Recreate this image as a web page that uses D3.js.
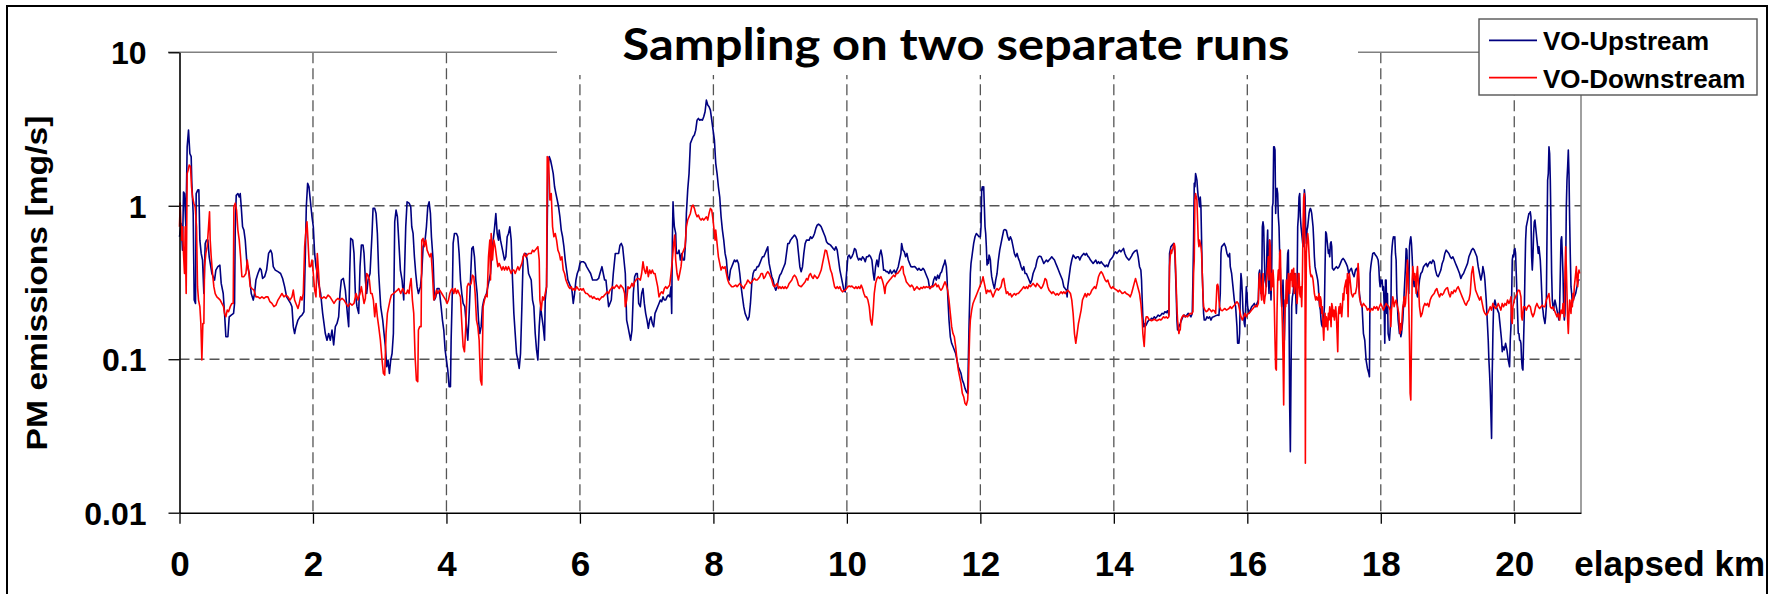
<!DOCTYPE html>
<html>
<head>
<meta charset="utf-8">
<script src="https://cdn.jsdelivr.net/npm/d3@7"></script>
<style>
  body { margin: 0; background: #fff; }
  svg { display: block; }
  .tick text { font-family: 'Liberation Sans', Arial, sans-serif; font-weight: bold; fill: #000; }
</style>
</head>
<body>
<svg id="chart" width="1780" height="594"></svg>
<script>
// elapsed km / PM emissions [mg/s]
var upstream = [
[0,0.628],[0.025,0.767],[0.045,0.514],[0.06,1.23],[0.075,1.2],[0.095,0.73],[0.115,2.42],[0.135,3.11],[0.155,2.19],[0.175,2.09],[0.185,1.4],[0.205,0.89],[0.22,0.243],[0.24,0.231],[0.25,1.2],[0.275,1.27],[0.29,1.27],[0.305,0.597],[0.325,0.489],[0.345,0.443],[0.365,0.268],[0.385,0.568],[0.405,0.597],[0.425,0.597],[0.445,0.465],[0.485,0.362],[0.525,0.328],[0.545,0.381],[0.575,0.401],[0.605,0.41],[0.625,0.312],[0.655,0.268],[0.675,0.199],[0.695,0.14],[0.725,0.14],[0.745,0.189],[0.775,0.194],[0.81,0.199],[0.825,0.231],[0.835,0.694],[0.85,1.17],[0.875,1.2],[0.895,1.14],[0.91,1.2],[0.925,0.985],[0.945,0.73],[0.965,0.694],[0.985,0.597],[1.01,0.421],[1.045,0.362],[1.075,0.268],[1.105,0.243],[1.125,0.268],[1.145,0.328],[1.175,0.362],[1.205,0.391],[1.225,0.381],[1.245,0.336],[1.275,0.345],[1.305,0.381],[1.335,0.489],[1.365,0.514],[1.385,0.489],[1.405,0.401],[1.435,0.381],[1.475,0.372],[1.515,0.362],[1.545,0.336],[1.575,0.297],[1.605,0.255],[1.635,0.243],[1.665,0.231],[1.685,0.22],[1.705,0.163],[1.725,0.147],[1.745,0.163],[1.775,0.18],[1.805,0.189],[1.835,0.194],[1.865,0.204],[1.885,0.465],[1.9,0.985],[1.92,1.4],[1.94,1.33],[1.955,1.14],[1.97,0.985],[1.985,0.848],[2.005,0.73],[2.025,0.489],[2.045,0.401],[2.065,0.362],[2.085,0.312],[2.115,0.268],[2.145,0.199],[2.165,0.171],[2.185,0.147],[2.21,0.133],[2.235,0.147],[2.26,0.133],[2.285,0.155],[2.31,0.124],[2.335,0.163],[2.36,0.171],[2.385,0.189],[2.405,0.268],[2.425,0.328],[2.455,0.336],[2.485,0.282],[2.515,0.199],[2.535,0.163],[2.55,0.362],[2.565,0.613],[2.595,0.597],[2.615,0.489],[2.635,0.268],[2.66,0.22],[2.685,0.199],[2.705,0.401],[2.725,0.554],[2.75,0.554],[2.765,0.489],[2.785,0.328],[2.805,0.268],[2.825,0.328],[2.855,0.362],[2.885,0.66],[2.9,0.961],[2.925,0.961],[2.945,0.891],[2.965,0.66],[2.985,0.362],[3.015,0.22],[3.045,0.18],[3.065,0.147],[3.085,0.121],[3.105,0.0893],[3.125,0.0988],[3.145,0.0809],[3.165,0.0988],[3.185,0.109],[3.205,0.147],[3.215,0.328],[3.225,0.787],[3.245,0.937],[3.265,0.848],[3.285,0.597],[3.31,0.381],[3.335,0.328],[3.36,0.243],
[3.39,0.73],[3.41,1.06],[3.44,1.04],[3.465,0.985],[3.48,0.73],[3.5,0.66],[3.52,0.465],[3.54,0.362],[3.56,0.297],[3.58,0.268],[3.61,0.297],[3.63,0.362],[3.65,0.541],[3.68,0.597],[3.7,0.73],[3.72,0.985],[3.74,1.06],[3.76,0.891],[3.775,0.628],[3.8,0.443],[3.82,0.243],[3.84,0.255],[3.86,0.289],[3.89,0.289],[3.92,0.22],[3.94,0.18],[3.96,0.155],[3.98,0.115],[4,0.0988],[4.02,0.085],[4.04,0.0662],[4.06,0.0662],[4.07,0.133],[4.09,0.297],[4.1,0.568],[4.12,0.66],[4.15,0.66],[4.17,0.628],[4.19,0.489],[4.21,0.328],[4.23,0.268],[4.25,0.231],[4.275,0.22],[4.3,0.163],[4.32,0.133],[4.34,0.199],[4.36,0.328],[4.38,0.527],[4.4,0.541],[4.42,0.465],[4.44,0.328],[4.46,0.268],[4.48,0.18],[4.5,0.147],[4.52,0.163],[4.54,0.22],[4.56,0.243],[4.58,0.255],[4.6,0.268],[4.62,0.297],[4.64,0.328],[4.66,0.362],[4.68,0.489],[4.7,0.597],[4.72,0.712],[4.74,0.891],[4.76,0.66],[4.78,0.597],[4.79,0.694],[4.81,0.597],[4.83,0.541],[4.85,0.489],[4.87,0.443],[4.89,0.465],[4.91,0.628],[4.93,0.66],[4.95,0.73],[4.97,0.597],[4.99,0.328],[5.01,0.199],[5.03,0.147],[5.05,0.109],[5.07,0.0988],[5.09,0.0871],[5.11,0.109],[5.13,0.22],[5.15,0.465],[5.17,0.489],[5.19,0.489],[5.21,0.443],[5.23,0.362],[5.25,0.345],[5.27,0.328],[5.29,0.243],[5.31,0.22],[5.33,0.147],[5.35,0.115],[5.37,0.0988],[5.39,0.163],[5.41,0.22],[5.43,0.189],[5.45,0.163],[5.47,0.133],[5.48,0.243],[5.5,0.297],[5.52,1.8],[5.54,2.09],[5.56,1.98],[5.58,1.8],[5.6,1.62],[5.62,1.33],[5.64,1.2],[5.66,1.09],[5.68,0.985],[5.7,0.848],[5.72,0.694],[5.74,0.628],[5.76,0.541],[5.78,0.443],[5.8,0.381],[5.82,0.328],[5.84,0.312],[5.86,0.297],[5.88,0.282],[5.9,0.231],[5.92,0.268],[5.94,0.328],[5.96,0.362],[5.98,0.381],[6,0.421],[6.02,0.432],[6.05,0.432],[6.08,0.421],[6.1,0.401],[6.13,0.381],[6.16,0.362],[6.19,0.328],[6.22,0.328],[6.25,0.328],[6.28,0.336],[6.3,0.362],[6.33,0.401],[6.35,0.362],[6.37,0.328],[6.39,0.328],[6.41,0.268],[6.43,0.22],[6.45,0.231],[6.47,0.243],[6.5,0.362],[6.53,0.489],[6.55,0.489],[6.58,0.489],[6.6,0.554],[6.62,0.568],[6.64,0.541],[6.66,0.443],[6.68,0.362],[6.7,0.18],[6.72,0.163],[6.74,0.147],[6.76,0.133],[6.78,0.155],[6.8,0.268],[6.82,0.345],[6.84,0.362],[6.86,0.362],[6.88,0.231],
[6.905,0.22],[6.925,0.268],[6.945,0.289],[6.965,0.231],[6.985,0.199],[7.005,0.18],[7.025,0.159],[7.045,0.18],[7.065,0.189],[7.085,0.171],[7.105,0.163],[7.125,0.199],[7.145,0.209],[7.165,0.22],[7.185,0.231],[7.205,0.243],[7.225,0.237],[7.245,0.255],[7.265,0.243],[7.285,0.243],[7.305,0.255],[7.325,0.262],[7.345,0.255],[7.365,0.297],[7.375,0.199],[7.385,0.597],[7.395,1.06],[7.405,0.848],[7.415,0.73],[7.435,0.66],[7.445,0.489],[7.465,0.489],[7.485,0.514],[7.505,0.443],[7.525,0.489],[7.545,0.443],[7.565,0.443],[7.585,0.597],[7.595,0.891],[7.615,1.27],[7.635,1.62],[7.655,2.55],[7.675,2.68],[7.695,2.82],[7.715,2.89],[7.735,3.11],[7.755,3.61],[7.775,3.71],[7.795,3.61],[7.815,3.65],[7.835,3.61],[7.855,3.8],[7.875,4.1],[7.895,4.88],[7.915,4.53],[7.935,4.42],[7.955,4.2],[7.975,3.61],[7.995,3.11],[8.015,2.68],[8.035,1.89],[8.055,1.62],[8.075,1.33],[8.095,1.14],[8.115,0.848],[8.135,0.694],[8.155,0.597],[8.175,0.489],[8.195,0.443],[8.215,0.345],[8.235,0.328],[8.255,0.381],[8.275,0.401],[8.295,0.421],[8.315,0.443],[8.335,0.432],[8.355,0.443],[8.375,0.421],[8.395,0.362],[8.415,0.297],[8.435,0.255],[8.455,0.22],[8.475,0.199],[8.495,0.189],[8.515,0.18],[8.535,0.189],[8.555,0.231],[8.575,0.312],[8.595,0.362],[8.615,0.381],[8.635,0.381],[8.655,0.401],[8.675,0.401],[8.695,0.421],[8.715,0.443],[8.735,0.465],[8.755,0.465],[8.775,0.489],[8.795,0.514],[8.815,0.541],[8.825,0.465],[8.835,0.421],[8.855,0.381],[8.875,0.345],[8.895,0.328],[8.915,0.297],[8.935,0.282],[8.955,0.297],[8.975,0.328],[8.995,0.353],[9.015,0.362],[9.035,0.381],[9.055,0.401],[9.075,0.421],[9.095,0.489],[9.115,0.568],[9.135,0.568],[9.155,0.597],[9.175,0.613],[9.195,0.628],[9.215,0.644],[9.235,0.628],[9.255,0.597],[9.275,0.489],[9.295,0.401],[9.315,0.372],[9.335,0.401],[9.355,0.489],[9.375,0.568],[9.395,0.597],[9.415,0.597],[9.435,0.597],[9.455,0.628],[9.475,0.613],[9.495,0.628],[9.515,0.66],[9.535,0.712],[9.555,0.748],[9.575,0.76],[9.595,0.748],[9.615,0.73],[9.635,0.694],[9.655,0.66],[9.675,0.628],[9.695,0.583],[9.715,0.568],[9.735,0.562],[9.755,0.554],[9.775,0.541],[9.795,0.527],[9.815,0.514],[9.835,0.541],[9.855,0.514],[9.875,0.443],[9.895,0.381],[9.915,0.345],[9.935,0.312],[9.955,0.282],[9.975,0.275],[9.995,0.362],[10.015,0.465],[10.035,0.477],[10.055,0.454],[10.075,0.465],[10.095,0.489],[10.115,0.527],[10.135,0.514],[10.155,0.465],[10.175,0.443],[10.195,0.454],[10.215,0.443],[10.235,0.465],[10.255,0.454],[10.275,0.432],[10.295,0.465],[10.315,0.465],[10.335,0.477],[10.355,0.465],[10.375,0.443],[10.395,0.362],
[10.41,0.328],[10.43,0.401],[10.45,0.443],[10.47,0.401],[10.49,0.477],[10.51,0.514],[10.53,0.465],[10.55,0.381],[10.57,0.381],[10.59,0.372],[10.61,0.372],[10.63,0.362],[10.65,0.381],[10.67,0.362],[10.69,0.372],[10.71,0.381],[10.73,0.362],[10.75,0.381],[10.77,0.401],[10.79,0.443],[10.81,0.489],[10.82,0.568],[10.84,0.514],[10.86,0.501],[10.88,0.465],[10.9,0.489],[10.92,0.443],[10.94,0.421],[10.96,0.401],[10.98,0.4],[11,0.401],[11.02,0.401],[11.04,0.391],[11.06,0.381],[11.08,0.391],[11.1,0.381],[11.12,0.381],[11.14,0.391],[11.16,0.381],[11.18,0.362],[11.2,0.345],[11.22,0.328],[11.24,0.289],[11.26,0.297],[11.28,0.297],[11.3,0.328],[11.32,0.345],[11.34,0.328],[11.36,0.353],[11.38,0.336],[11.4,0.362],[11.42,0.372],[11.44,0.401],[11.46,0.421],[11.47,0.443],[11.48,0.421],[11.49,0.401],[11.5,0.345],[11.51,0.268],[11.52,0.22],[11.53,0.18],[11.55,0.14],[11.57,0.127],[11.59,0.121],[11.61,0.115],[11.63,0.109],[11.65,0.0988],[11.67,0.0893],[11.69,0.085],[11.71,0.0809],[11.73,0.0731],[11.75,0.0696],[11.77,0.0646],[11.79,0.0614],[11.81,0.0599],[11.82,0.0988],[11.83,0.163],[11.84,0.243],[11.85,0.362],[11.86,0.421],[11.88,0.489],[11.9,0.568],[11.92,0.628],[11.94,0.66],[11.96,0.644],[11.98,0.628],[12,0.628],[12.01,0.73],[12.02,1.27],[12.03,1.33],[12.04,1.27],[12.05,1.33],[12.06,0.985],[12.07,0.73],[12.08,0.66],[12.09,0.541],[12.1,0.411],[12.11,0.443],[12.12,0.421],[12.13,0.477],[12.14,0.465],[12.15,0.443],[12.16,0.381],[12.17,0.345],[12.19,0.312],[12.21,0.289],[12.23,0.328],[12.25,0.362],[12.27,0.443],[12.29,0.514],[12.31,0.568],[12.33,0.628],[12.35,0.694],[12.37,0.7],[12.39,0.69],[12.41,0.628],[12.43,0.597],[12.45,0.628],[12.47,0.597],[12.49,0.541],[12.51,0.489],[12.53,0.465],[12.55,0.489],[12.57,0.454],[12.59,0.432],[12.61,0.401],[12.63,0.381],[12.65,0.401],[12.67,0.362],[12.69,0.362],[12.71,0.345],[12.73,0.328],[12.75,0.312],[12.77,0.328],[12.79,0.362],[12.81,0.381],[12.83,0.401],[12.85,0.443],[12.87,0.465],[12.89,0.47],[12.91,0.465],[12.93,0.443],[12.95,0.421],[12.97,0.432],[12.99,0.443],[13.01,0.432],[13.03,0.443],[13.05,0.454],[13.07,0.465],[13.09,0.454],[13.11,0.443],[13.13,0.421],[13.15,0.401],[13.17,0.381],[13.19,0.362],[13.21,0.345],[13.23,0.328],[13.25,0.297],[13.27,0.289],[13.29,0.282],[13.3,0.255],[13.31,0.297],[13.33,0.345],[13.35,0.401],[13.37,0.443],[13.39,0.477],[13.41,0.465],[13.43,0.454],[13.45,0.465],[13.47,0.465],[13.49,0.443],[13.51,0.465],[13.53,0.477],[13.55,0.489],[13.57,0.477],[13.59,0.489],[13.61,0.47],[13.63,0.46],[13.65,0.443],[13.67,0.432],[13.69,0.421],[13.71,0.432],[13.73,0.443],[13.75,0.421],[13.77,0.432],[13.79,0.421],[13.81,0.432],[13.83,0.421],[13.85,0.411],[13.87,0.401],[13.89,0.411],[13.91,0.401],
[13.925,0.421],[13.945,0.443],[13.965,0.454],[13.985,0.465],[14.005,0.489],[14.025,0.501],[14.045,0.489],[14.065,0.501],[14.085,0.514],[14.105,0.501],[14.125,0.514],[14.145,0.527],[14.165,0.489],[14.185,0.465],[14.205,0.454],[14.225,0.443],[14.245,0.454],[14.265,0.47],[14.285,0.489],[14.305,0.501],[14.325,0.51],[14.345,0.514],[14.365,0.465],[14.385,0.401],[14.405,0.381],[14.415,0.328],[14.425,0.243],[14.435,0.189],[14.445,0.163],[14.455,0.171],[14.465,0.163],[14.485,0.167],[14.505,0.175],[14.525,0.18],[14.545,0.18],[14.565,0.185],[14.585,0.182],[14.605,0.189],[14.625,0.185],[14.645,0.189],[14.665,0.194],[14.685,0.191],[14.705,0.194],[14.725,0.199],[14.745,0.197],[14.765,0.204],[14.785,0.201],[14.805,0.207],[14.825,0.194],[14.835,0.489],[14.855,0.541],[14.875,0.554],[14.895,0.568],[14.915,0.489],[14.925,0.362],[14.935,0.268],[14.945,0.18],[14.955,0.155],[14.975,0.163],[14.995,0.171],[15.015,0.18],[15.035,0.189],[15.055,0.194],[15.075,0.189],[15.095,0.194],[15.115,0.199],[15.135,0.194],[15.155,0.189],[15.175,0.199],[15.185,0.328],[15.195,0.597],[15.205,1.4],[15.215,1.33],[15.225,1.62],[15.235,1.55],[15.245,1.47],[15.255,1.27],[15.265,1.14],[15.275,1.09],[15.285,0.985],[15.295,1.14],[15.305,0.985],[15.315,0.597],[15.325,0.362],[15.335,0.268],[15.345,0.199],[15.355,0.18],[15.375,0.18],[15.395,0.189],[15.415,0.185],[15.435,0.189],[15.455,0.18],[15.475,0.188],[15.495,0.189],[15.515,0.191],[15.535,0.193],[15.555,0.194],[15.575,0.193],[15.595,0.268],[15.605,0.489],[15.615,0.541],[15.635,0.554],[15.655,0.568],[15.675,0.541],[15.695,0.489],[15.715,0.465],[15.735,0.489],[15.745,0.401],[15.765,0.362],[15.785,0.297],[15.805,0.243],[15.825,0.22],[15.845,0.163],[15.855,0.127],[15.875,0.127],[15.885,0.147],[15.895,0.268],[15.905,0.362],[15.915,0.328],[15.925,0.268],[15.935,0.209],[15.945,0.189],[15.955,0.171],[15.965,0.163],[15.975,0.22],[15.985,0.297],[15.995,0.268],[16.005,0.22],[16.025,0.199],[16.045,0.209],[16.065,0.22],[16.085,0.225],[16.105,0.231],[16.125,0.22],[16.145,0.231],[16.165,0.243],[16.175,0.362],[16.185,0.381],[16.195,0.328],[16.205,0.268],[16.215,0.268],[16.225,0.73],[16.235,0.787],[16.245,0.73],[16.255,0.465],[16.265,0.328],[16.285,0.297],[16.295,0.541],[16.305,0.694],[16.315,0.362],[16.325,0.268],[16.335,0.597],[16.345,0.362],[16.355,0.243],[16.365,0.362],[16.375,0.985],[16.385,1.04],[16.395,2.42],[16.405,2.42],[16.415,2.31],[16.425,0.891],[16.435,1.27],[16.445,1.3],[16.455,1.2],[16.465,0.848],[16.475,0.73],[16.485,0.489],[16.495,0.381],[16.505,0.268],[16.515,0.22],[16.525,0.243],[16.535,0.328],[16.545,0.22],[16.555,0.133],[16.565,0.22],[16.575,0.243],[16.585,0.268],[16.595,0.362],[16.605,0.489],[16.615,0.514],[16.625,0.22],[16.635,0.049],[16.645,0.025],[16.655,0.0809],[16.665,0.22],[16.675,0.255],[16.685,0.268],[16.695,0.297],[16.705,0.362],[16.715,0.328],[16.725,0.268],[16.735,0.199],[16.745,0.268],[16.755,0.73],[16.765,0.848],[16.775,1.14],[16.785,1.2],[16.795,0.848],[16.805,0.73],[16.815,0.66],[16.825,0.597],[16.835,0.541],[16.845,0.73],[16.855,1.27],[16.865,1.14],[16.875,0.694],[16.885,0.568],[16.895,0.694],[16.905,0.73],[16.915,0.807],[16.925,0.891],[16.935,0.937],[16.945,0.961],[16.955,0.937],[16.965,0.891],[16.975,0.807],[16.985,0.73],[16.995,0.597],[17.005,0.465],[17.015,0.401],[17.025,0.381],[17.035,0.362],[17.045,0.345],[17.055,0.328],[17.065,0.297],[17.075,0.243],[17.085,0.22],[17.095,0.209],[17.105,0.18],[17.115,0.167],[17.125,0.163],[17.135,0.18],[17.145,0.189],[17.155,0.22],[17.165,0.401],[17.175,0.677],[17.185,0.66],[17.195,0.597],[17.205,0.541],[17.215,0.489],[17.225,0.514],[17.235,0.465],[17.245,0.568],[17.255,0.583],[17.265,0.541],[17.275,0.391],[17.295,0.381],[17.315,0.391],[17.335,0.401],[17.355,0.391],[17.375,0.401],[17.395,0.421],[17.415,0.443],[17.435,0.454],[17.455,0.443],
[17.48,0.421],[17.5,0.401],[17.52,0.362],[17.54,0.381],[17.56,0.391],[17.58,0.362],[17.6,0.345],[17.62,0.381],[17.64,0.391],[17.66,0.362],[17.68,0.268],[17.7,0.231],[17.72,0.22],[17.74,0.147],[17.76,0.133],[17.78,0.0988],[17.8,0.0871],[17.82,0.0809],[17.83,0.0769],[17.84,0.362],[17.85,0.401],[17.86,0.432],[17.88,0.489],[17.9,0.494],[17.92,0.477],[17.94,0.465],[17.96,0.443],[17.97,0.401],[17.98,0.328],[17.99,0.297],[18,0.328],[18.01,0.312],[18.02,0.328],[18.03,0.282],[18.04,0.297],[18.05,0.231],[18.06,0.127],[18.07,0.328],[18.08,0.328],[18.09,0.199],[18.1,0.268],[18.11,0.147],[18.12,0.14],[18.13,0.133],[18.14,0.155],[18.15,0.189],[18.16,0.465],[18.17,0.541],[18.18,0.597],[18.19,0.628],[18.2,0.613],[18.21,0.628],[18.22,0.489],[18.23,0.443],[18.24,0.268],[18.25,0.22],[18.26,0.18],[18.27,0.163],[18.28,0.147],[18.29,0.163],[18.3,0.14],[18.31,0.147],[18.32,0.163],[18.33,0.18],[18.34,0.22],[18.35,0.268],[18.36,0.328],[18.37,0.401],[18.38,0.527],[18.39,0.514],[18.4,0.401],[18.41,0.328],[18.42,0.268],[18.43,0.541],[18.44,0.597],[18.45,0.628],[18.46,0.568],[18.47,0.465],[18.48,0.362],[18.49,0.328],[18.5,0.297],[18.51,0.312],[18.52,0.328],[18.53,0.297],[18.54,0.268],[18.55,0.255],[18.56,0.268],[18.57,0.297],[18.58,0.328],[18.6,0.362],[18.62,0.372],[18.64,0.401],[18.66,0.411],[18.68,0.421],[18.7,0.401],[18.72,0.421],[18.74,0.432],[18.76,0.421],[18.78,0.443],[18.8,0.432],[18.82,0.381],[18.84,0.353],[18.86,0.345],[18.88,0.362],[18.9,0.381],[18.92,0.421],[18.94,0.443],[18.96,0.489],[18.98,0.514],[19,0.501],[19.02,0.489],[19.04,0.465],[19.06,0.454],[19.08,0.465],[19.1,0.443],[19.12,0.421],[19.14,0.401],[19.16,0.381],[19.18,0.362],[19.2,0.336],[19.22,0.353],[19.24,0.362],[19.26,0.381],[19.28,0.401],[19.3,0.421],[19.32,0.465],[19.34,0.489],[19.36,0.514],[19.38,0.527],[19.4,0.514],[19.42,0.489],[19.44,0.465],[19.46,0.401],[19.48,0.362],[19.5,0.328],[19.52,0.362],[19.53,0.401],[19.54,0.381],[19.55,0.362],[19.56,0.328],[19.57,0.282],[19.58,0.243],[19.59,0.199],[19.6,0.163],[19.61,0.133],[19.62,0.0988],[19.63,0.0809],[19.64,0.063],[19.65,0.0444],[19.66,0.0305],[19.67,0.0809],[19.68,0.147],[19.69,0.22],[19.7,0.231],[19.71,0.243],[19.72,0.231],[19.73,0.22],[19.75,0.209],[19.77,0.199],[19.79,0.163],[19.81,0.133],[19.82,0.112],[19.83,0.121],[19.85,0.115],[19.87,0.127],[19.89,0.115],[19.91,0.0988],[19.93,0.0893],[19.94,0.133],[19.95,0.163],[19.96,0.243],[19.97,0.443],[19.98,0.477],[19.99,0.465],[20,0.514],[20.01,0.527],[20.02,0.489],[20.03,0.362],[20.04,0.268],[20.05,0.199],[20.06,0.147],[20.07,0.147],[20.08,0.133],[20.09,0.133],[20.1,0.127],[20.11,0.0988],[20.12,0.0871],[20.13,0.085],[20.14,0.133],[20.15,0.199],[20.16,0.362],[20.17,0.597],[20.18,0.73],[20.19,0.767],[20.2,0.807],[20.21,0.848],[20.22,0.891],[20.23,0.891],[20.24,0.914],[20.25,0.848],[20.26,0.465],[20.27,0.381],[20.28,0.465],[20.29,0.66],[20.3,0.787],[20.31,0.807],[20.32,0.73],[20.33,0.66],[20.34,0.597],[20.35,0.541],[20.36,0.489],[20.37,0.541],[20.38,0.489],[20.39,0.443],[20.4,0.362],[20.41,0.282],[20.42,0.22],[20.43,0.209],[20.44,0.189],[20.45,0.18],[20.46,0.171],[20.47,0.189],[20.48,0.22],[20.49,0.597],[20.5,1.47],[20.51,1.62],[20.52,2.42],[20.53,2.19],[20.54,1.47],[20.55,0.767],[20.56,0.362],[20.57,0.243],[20.58,0.22],[20.59,0.209],[20.6,0.231],[20.61,0.243],[20.62,0.231],[20.63,0.22],[20.64,0.209],[20.65,0.199],[20.66,0.189],[20.67,0.18],[20.68,0.22],[20.69,0.362],[20.7,0.597],[20.71,0.628],[20.72,0.489],[20.73,0.362],[20.74,0.22],[20.75,0.18],[20.76,0.199],[20.77,0.362],[20.78,0.985],[20.79,1.47],[20.8,1.8],[20.81,2.31],[20.82,1.62],[20.83,0.807],[20.84,0.465],[20.85,0.297],[20.86,0.268],[20.87,0.231],[20.88,0.243],[20.9,0.255],[20.92,0.268],[20.94,0.297],[20.96,0.328],[20.98,0.328]
];

var downstream = [
[0,0.73],[0.01,1.04],[0.03,0.597],[0.045,0.73],[0.06,0.489],[0.075,0.362],[0.085,0.73],[0.1,0.268],[0.115,1.62],[0.13,1.71],[0.145,1.84],[0.165,1.8],[0.18,1.33],[0.195,1.14],[0.215,1.04],[0.235,0.985],[0.255,0.73],[0.27,0.297],[0.285,0.243],[0.305,0.22],[0.32,0.171],[0.335,0.0988],[0.35,0.171],[0.365,0.171],[0.375,0.401],[0.395,0.489],[0.415,0.541],[0.435,0.73],[0.45,0.914],[0.46,0.597],[0.475,0.465],[0.495,0.362],[0.515,0.297],[0.535,0.268],[0.56,0.255],[0.585,0.249],[0.61,0.243],[0.635,0.231],[0.66,0.22],[0.675,0.199],[0.695,0.189],[0.715,0.209],[0.735,0.204],[0.76,0.22],[0.785,0.231],[0.805,0.231],[0.815,0.985],[0.835,1.04],[0.855,0.937],[0.875,0.694],[0.895,0.597],[0.915,0.465],[0.935,0.345],[0.965,0.345],[0.995,0.362],[1.015,0.443],[1.035,0.381],[1.06,0.297],[1.085,0.289],[1.115,0.282],[1.145,0.255],[1.175,0.255],[1.205,0.249],[1.235,0.255],[1.265,0.249],[1.295,0.255],[1.325,0.255],[1.355,0.237],[1.385,0.231],[1.415,0.22],[1.445,0.225],[1.475,0.243],[1.505,0.255],[1.535,0.268],[1.565,0.255],[1.595,0.262],[1.625,0.255],[1.655,0.243],[1.685,0.255],[1.705,0.282],[1.725,0.243],[1.745,0.231],[1.775,0.214],[1.795,0.231],[1.815,0.255],[1.835,0.243],[1.855,0.268],[1.875,0.541],[1.895,0.694],[1.91,0.787],[1.925,0.597],[1.945,0.401],[1.965,0.401],[1.985,0.443],[2.005,0.362],[2.025,0.282],[2.045,0.255],[2.065,0.489],[2.085,0.362],[2.105,0.255],[2.135,0.249],[2.165,0.255],[2.195,0.249],[2.225,0.262],[2.255,0.255],[2.285,0.243],[2.315,0.231],[2.345,0.243],[2.375,0.249],[2.405,0.243],[2.435,0.249],[2.465,0.243],[2.495,0.231],[2.525,0.22],[2.555,0.231],[2.585,0.225],[2.615,0.231],[2.645,0.268],[2.675,0.243],[2.705,0.268],[2.725,0.297],[2.745,0.262],[2.765,0.231],[2.785,0.249],[2.805,0.362],[2.825,0.353],[2.845,0.328],[2.865,0.268],[2.885,0.268],[2.905,0.243],[2.925,0.189],[2.945,0.231],[2.965,0.189],[2.985,0.163],[3.01,0.133],[3.035,0.0988],[3.055,0.0809],[3.075,0.0788],[3.095,0.147],[3.115,0.199],[3.135,0.22],[3.155,0.243],[3.175,0.262],[3.205,0.268],[3.235,0.275],[3.265,0.282],[3.285,0.289],[3.315,0.268],[3.345,0.289],[3.375,0.268],
[3.4,0.268],[3.42,0.282],[3.44,0.268],[3.45,0.297],[3.47,0.336],[3.49,0.243],[3.51,0.199],[3.53,0.104],[3.55,0.0731],[3.57,0.0714],[3.58,0.155],[3.6,0.163],[3.62,0.163],[3.63,0.597],[3.65,0.613],[3.67,0.541],[3.69,0.597],[3.71,0.514],[3.73,0.489],[3.75,0.465],[3.77,0.489],[3.79,0.362],[3.81,0.243],[3.83,0.255],[3.85,0.282],[3.87,0.268],[3.9,0.282],[3.93,0.268],[3.96,0.255],[3.99,0.243],[4.01,0.231],[4.03,0.243],[4.05,0.268],[4.07,0.282],[4.09,0.289],[4.11,0.268],[4.13,0.289],[4.15,0.268],[4.17,0.282],[4.19,0.268],[4.21,0.255],[4.23,0.171],[4.25,0.121],[4.27,0.112],[4.29,0.163],[4.31,0.297],[4.33,0.312],[4.35,0.304],[4.37,0.312],[4.39,0.353],[4.41,0.345],[4.43,0.268],[4.45,0.18],[4.47,0.163],[4.49,0.133],[4.51,0.0731],[4.53,0.0679],[4.54,0.121],[4.55,0.22],[4.57,0.243],[4.59,0.262],[4.61,0.255],[4.63,0.465],[4.65,0.597],[4.66,0.328],[4.67,0.66],[4.69,0.443],[4.71,0.597],[4.73,0.541],[4.75,0.465],[4.77,0.401],[4.79,0.421],[4.81,0.401],[4.83,0.381],[4.85,0.401],[4.87,0.381],[4.89,0.401],[4.91,0.381],[4.93,0.401],[4.95,0.381],[4.97,0.362],[4.99,0.381],[5.01,0.381],[5.03,0.362],[5.05,0.381],[5.07,0.401],[5.09,0.381],[5.11,0.401],[5.13,0.421],[5.15,0.465],[5.17,0.489],[5.19,0.465],[5.21,0.477],[5.23,0.489],[5.25,0.489],[5.27,0.489],[5.29,0.514],[5.31,0.501],[5.33,0.514],[5.35,0.527],[5.37,0.541],[5.39,0.443],[5.4,0.243],[5.42,0.209],[5.44,0.255],[5.46,0.243],[5.48,0.268],[5.5,0.297],[5.51,2.09],[5.53,2.03],[5.55,1.09],[5.57,1.2],[5.59,0.73],[5.61,0.628],[5.63,0.66],[5.65,0.597],[5.67,0.514],[5.69,0.489],[5.71,0.443],[5.73,0.465],[5.75,0.381],[5.77,0.362],[5.79,0.328],[5.81,0.312],[5.83,0.297],[5.85,0.289],[5.87,0.297],[5.89,0.282],[5.91,0.289],[5.93,0.282],[5.95,0.297],[5.97,0.289],[5.99,0.282],[6.01,0.289],[6.03,0.282],[6.05,0.289],[6.07,0.275],[6.09,0.268],[6.11,0.268],[6.13,0.262],[6.15,0.255],[6.17,0.258],[6.19,0.249],[6.21,0.255],[6.23,0.249],[6.25,0.246],[6.27,0.249],[6.29,0.243],[6.31,0.249],[6.33,0.255],[6.35,0.255],[6.37,0.262],[6.39,0.268],[6.41,0.275],[6.43,0.268],[6.45,0.282],[6.47,0.289],[6.49,0.297],[6.51,0.289],[6.53,0.297],[6.55,0.304],[6.57,0.297],[6.59,0.289],[6.61,0.304],[6.63,0.297],[6.65,0.289],[6.67,0.268],[6.68,0.22],[6.7,0.243],[6.72,0.297],[6.74,0.289],[6.76,0.297],[6.78,0.312],[6.8,0.297],[6.82,0.32],[6.84,0.328],[6.86,0.336],[6.88,0.336],
[6.905,0.328],[6.925,0.362],[6.945,0.432],[6.965,0.381],[6.985,0.362],[7.005,0.401],[7.025,0.345],[7.045,0.381],[7.065,0.362],[7.085,0.381],[7.105,0.362],[7.125,0.362],[7.145,0.328],[7.165,0.297],[7.185,0.255],[7.205,0.268],[7.225,0.275],[7.245,0.268],[7.265,0.289],[7.285,0.297],[7.305,0.289],[7.325,0.297],[7.345,0.304],[7.365,0.362],[7.385,0.443],[7.405,0.568],[7.42,0.644],[7.435,0.443],[7.455,0.362],[7.475,0.328],[7.495,0.362],[7.515,0.401],[7.535,0.489],[7.555,0.514],[7.575,0.541],[7.595,0.73],[7.615,0.807],[7.635,0.848],[7.655,0.891],[7.675,0.985],[7.695,1.01],[7.715,0.961],[7.735,0.891],[7.755,0.848],[7.775,0.869],[7.795,0.827],[7.815,0.807],[7.835,0.827],[7.855,0.807],[7.875,0.827],[7.895,0.848],[7.915,0.807],[7.935,0.891],[7.955,0.961],[7.975,0.937],[7.995,0.807],[8.015,0.66],[8.025,0.597],[8.035,0.694],[8.055,0.568],[8.075,0.465],[8.095,0.421],[8.115,0.381],[8.135,0.401],[8.155,0.391],[8.175,0.401],[8.195,0.362],[8.215,0.328],[8.235,0.312],[8.255,0.304],[8.275,0.297],[8.295,0.297],[8.315,0.3],[8.335,0.304],[8.355,0.297],[8.375,0.304],[8.395,0.312],[8.415,0.304],[8.435,0.297],[8.455,0.289],[8.475,0.304],[8.495,0.312],[8.515,0.328],[8.535,0.32],[8.555,0.312],[8.575,0.32],[8.595,0.328],[8.615,0.336],[8.635,0.328],[8.655,0.328],[8.675,0.336],[8.695,0.345],[8.715,0.362],[8.735,0.362],[8.755,0.336],[8.775,0.345],[8.795,0.362],[8.815,0.372],[8.835,0.362],[8.855,0.345],[8.875,0.328],[8.895,0.304],[8.915,0.297],[8.935,0.304],[8.955,0.312],[8.975,0.289],[8.995,0.297],[9.015,0.289],[9.035,0.297],[9.055,0.289],[9.075,0.297],[9.095,0.289],[9.115,0.297],[9.135,0.312],[9.155,0.32],[9.175,0.328],[9.195,0.345],[9.215,0.353],[9.235,0.345],[9.255,0.328],[9.275,0.304],[9.295,0.3],[9.315,0.297],[9.335,0.304],[9.355,0.312],[9.375,0.32],[9.395,0.336],[9.415,0.328],[9.435,0.353],[9.455,0.362],[9.475,0.345],[9.495,0.336],[9.515,0.353],[9.535,0.345],[9.555,0.336],[9.575,0.345],[9.595,0.362],[9.615,0.381],[9.635,0.421],[9.655,0.465],[9.675,0.514],[9.695,0.51],[9.715,0.465],[9.735,0.421],[9.755,0.381],[9.775,0.362],[9.795,0.328],[9.815,0.297],[9.835,0.289],[9.855,0.297],[9.875,0.289],[9.895,0.297],[9.915,0.282],[9.935,0.275],[9.955,0.28],[9.975,0.282],[9.995,0.289],[10.015,0.297],[10.035,0.3],[10.055,0.297],[10.075,0.3],[10.095,0.294],[10.115,0.289],[10.135,0.297],[10.155,0.289],[10.175,0.297],[10.195,0.289],[10.215,0.304],[10.235,0.289],[10.255,0.268],[10.275,0.255],[10.295,0.255],[10.315,0.243],[10.335,0.22],[10.355,0.18],[10.375,0.167],[10.395,0.209],
[10.41,0.268],[10.43,0.312],[10.45,0.336],[10.47,0.345],[10.49,0.336],[10.51,0.345],[10.53,0.328],[10.55,0.304],[10.57,0.268],[10.58,0.297],[10.6,0.312],[10.62,0.32],[10.64,0.328],[10.66,0.336],[10.68,0.345],[10.7,0.353],[10.72,0.345],[10.74,0.362],[10.76,0.362],[10.78,0.372],[10.8,0.381],[10.82,0.401],[10.84,0.401],[10.85,0.362],[10.87,0.345],[10.89,0.32],[10.91,0.312],[10.93,0.304],[10.95,0.297],[10.97,0.304],[10.99,0.297],[11.01,0.282],[11.03,0.289],[11.05,0.297],[11.07,0.289],[11.09,0.285],[11.11,0.294],[11.13,0.289],[11.15,0.297],[11.17,0.292],[11.19,0.297],[11.21,0.294],[11.23,0.297],[11.25,0.289],[11.27,0.3],[11.29,0.297],[11.31,0.304],[11.33,0.312],[11.35,0.297],[11.37,0.304],[11.39,0.289],[11.41,0.282],[11.43,0.289],[11.45,0.304],[11.47,0.32],[11.49,0.304],[11.51,0.282],[11.53,0.243],[11.55,0.199],[11.57,0.163],[11.59,0.147],[11.61,0.14],[11.63,0.121],[11.65,0.0988],[11.67,0.085],[11.69,0.0769],[11.71,0.0696],[11.73,0.0599],[11.75,0.057],[11.77,0.0516],[11.79,0.0503],[11.81,0.0542],[11.82,0.0662],[11.83,0.104],[11.84,0.147],[11.85,0.18],[11.87,0.209],[11.89,0.231],[11.91,0.243],[11.93,0.255],[11.95,0.268],[11.97,0.282],[11.99,0.297],[12.01,0.312],[12.03,0.328],[12.04,0.345],[12.05,0.328],[12.07,0.297],[12.09,0.268],[12.11,0.282],[12.13,0.275],[12.15,0.282],[12.17,0.268],[12.19,0.255],[12.21,0.268],[12.23,0.282],[12.25,0.289],[12.27,0.282],[12.29,0.289],[12.31,0.297],[12.33,0.328],[12.35,0.336],[12.37,0.297],[12.39,0.268],[12.41,0.275],[12.43,0.262],[12.45,0.268],[12.47,0.255],[12.49,0.262],[12.51,0.268],[12.53,0.262],[12.55,0.268],[12.57,0.268],[12.59,0.275],[12.61,0.282],[12.63,0.289],[12.65,0.297],[12.67,0.289],[12.69,0.297],[12.71,0.289],[12.73,0.304],[12.75,0.297],[12.77,0.304],[12.79,0.312],[12.81,0.304],[12.83,0.297],[12.85,0.312],[12.87,0.304],[12.89,0.297],[12.91,0.289],[12.93,0.297],[12.95,0.312],[12.97,0.336],[12.99,0.328],[13.01,0.297],[13.03,0.282],[13.05,0.275],[13.07,0.268],[13.09,0.275],[13.11,0.268],[13.13,0.262],[13.15,0.268],[13.17,0.262],[13.19,0.268],[13.21,0.275],[13.23,0.268],[13.25,0.275],[13.27,0.268],[13.29,0.275],[13.31,0.282],[13.33,0.275],[13.35,0.268],[13.37,0.243],[13.39,0.199],[13.41,0.147],[13.43,0.127],[13.45,0.147],[13.47,0.171],[13.49,0.189],[13.51,0.209],[13.53,0.243],[13.55,0.255],[13.57,0.268],[13.59,0.255],[13.61,0.268],[13.63,0.262],[13.65,0.268],[13.67,0.282],[13.69,0.289],[13.71,0.297],[13.73,0.289],[13.75,0.312],[13.77,0.345],[13.79,0.362],[13.81,0.372],[13.83,0.362],[13.85,0.345],[13.87,0.328],[13.89,0.32],[13.91,0.328],
[13.925,0.312],[13.945,0.297],[13.965,0.289],[13.985,0.297],[14.005,0.289],[14.025,0.285],[14.045,0.282],[14.065,0.275],[14.085,0.282],[14.105,0.275],[14.125,0.268],[14.145,0.27],[14.165,0.275],[14.185,0.268],[14.205,0.265],[14.225,0.262],[14.245,0.255],[14.265,0.268],[14.285,0.289],[14.305,0.312],[14.325,0.336],[14.345,0.312],[14.365,0.289],[14.385,0.268],[14.405,0.231],[14.425,0.18],[14.435,0.147],[14.445,0.133],[14.455,0.121],[14.465,0.147],[14.475,0.18],[14.485,0.189],[14.505,0.189],[14.525,0.182],[14.545,0.18],[14.565,0.178],[14.585,0.18],[14.605,0.182],[14.625,0.18],[14.645,0.178],[14.665,0.18],[14.685,0.182],[14.705,0.18],[14.725,0.184],[14.745,0.189],[14.765,0.186],[14.785,0.189],[14.805,0.185],[14.825,0.189],[14.835,0.401],[14.845,0.465],[14.855,0.514],[14.865,0.489],[14.875,0.514],[14.885,0.527],[14.895,0.554],[14.905,0.568],[14.915,0.541],[14.925,0.401],[14.935,0.297],[14.945,0.22],[14.955,0.18],[14.965,0.163],[14.975,0.147],[14.985,0.155],[14.995,0.155],[15.005,0.18],[15.025,0.189],[15.045,0.194],[15.065,0.189],[15.085,0.191],[15.105,0.189],[15.125,0.194],[15.145,0.199],[15.165,0.197],[15.185,0.204],[15.195,0.362],[15.205,0.443],[15.215,1.09],[15.225,1.2],[15.235,1.14],[15.245,1.09],[15.255,0.807],[15.265,0.597],[15.275,0.541],[15.285,0.597],[15.295,0.568],[15.305,0.541],[15.315,0.489],[15.325,0.362],[15.335,0.268],[15.345,0.22],[15.365,0.209],[15.385,0.204],[15.405,0.207],[15.425,0.214],[15.445,0.209],[15.465,0.204],[15.485,0.209],[15.505,0.207],[15.525,0.199],[15.535,0.243],[15.545,0.304],[15.555,0.308],[15.565,0.297],[15.575,0.243],[15.585,0.22],[15.605,0.209],[15.625,0.207],[15.645,0.211],[15.665,0.214],[15.685,0.209],[15.705,0.211],[15.725,0.214],[15.745,0.22],[15.765,0.214],[15.785,0.22],[15.805,0.225],[15.825,0.231],[15.845,0.237],[15.865,0.231],[15.885,0.209],[15.905,0.189],[15.925,0.18],[15.945,0.189],[15.965,0.199],[15.985,0.189],[16.005,0.197],[16.025,0.199],[16.045,0.204],[16.065,0.209],[16.085,0.214],[16.105,0.22],[16.125,0.225],[16.145,0.22],[16.165,0.231],[16.175,0.328],[16.185,0.362],[16.195,0.297],[16.205,0.268],[16.215,0.243],[16.225,0.328],[16.235,0.362],[16.245,0.243],[16.255,0.231],[16.265,0.255],[16.275,0.268],[16.285,0.328],[16.295,0.362],[16.305,0.401],[16.315,0.465],[16.325,0.328],[16.335,0.597],[16.345,0.541],[16.355,0.282],[16.365,0.362],[16.375,0.297],[16.385,0.381],[16.395,0.328],[16.405,0.22],[16.415,0.133],[16.425,0.0871],[16.435,0.085],[16.445,0.199],[16.455,0.328],[16.465,0.381],[16.475,0.328],[16.485,0.489],[16.495,0.514],[16.505,0.297],[16.515,0.243],[16.525,0.171],[16.535,0.104],[16.545,0.0503],[16.555,0.133],[16.565,0.243],[16.575,0.22],[16.585,0.328],[16.595,0.231],[16.605,0.268],[16.615,0.362],[16.625,0.328],[16.635,0.268],[16.645,0.362],[16.655,0.328],[16.665,0.381],[16.675,0.297],[16.685,0.381],[16.695,0.391],[16.705,0.268],[16.715,0.328],[16.725,0.362],[16.735,0.297],[16.745,0.231],[16.755,0.268],[16.765,0.362],[16.775,0.362],[16.785,0.268],[16.795,0.255],[16.805,0.297],[16.815,0.22],[16.825,0.328],[16.835,0.73],[16.845,1.14],[16.855,1.2],[16.865,0.362],[16.87,0.021],[16.875,0.133],[16.885,0.489],[16.895,0.597],[16.905,0.66],[16.915,0.597],[16.925,0.489],[16.935,0.401],[16.945,0.362],[16.955,0.345],[16.965,0.353],[16.975,0.345],[16.985,0.328],[16.995,0.297],[17.005,0.268],[17.015,0.255],[17.025,0.243],[17.035,0.255],[17.045,0.249],[17.055,0.243],[17.065,0.255],[17.075,0.268],[17.085,0.22],[17.095,0.255],[17.105,0.243],[17.115,0.199],[17.125,0.22],[17.135,0.163],[17.145,0.133],[17.155,0.18],[17.165,0.199],[17.175,0.163],[17.185,0.189],[17.195,0.171],[17.205,0.155],[17.215,0.199],[17.225,0.18],[17.235,0.22],[17.245,0.199],[17.255,0.163],[17.265,0.231],[17.275,0.22],[17.285,0.189],[17.295,0.209],[17.305,0.18],[17.315,0.199],[17.325,0.22],[17.335,0.189],[17.345,0.147],[17.355,0.112],[17.365,0.199],[17.375,0.22],[17.385,0.199],[17.395,0.231],[17.405,0.209],[17.415,0.189],[17.425,0.22],[17.435,0.268],[17.445,0.243],[17.455,0.289],
[17.47,0.312],[17.48,0.328],[17.49,0.268],[17.5,0.362],[17.51,0.189],[17.52,0.328],[17.53,0.362],[17.54,0.328],[17.55,0.297],[17.56,0.268],[17.58,0.255],[17.6,0.268],[17.62,0.268],[17.64,0.297],[17.66,0.421],[17.67,0.362],[17.68,0.255],[17.7,0.231],[17.72,0.22],[17.74,0.231],[17.76,0.225],[17.78,0.22],[17.8,0.209],[17.82,0.214],[17.84,0.204],[17.86,0.214],[17.88,0.209],[17.9,0.22],[17.92,0.214],[17.94,0.22],[17.96,0.209],[17.98,0.22],[18,0.231],[18.02,0.22],[18.04,0.209],[18.06,0.22],[18.08,0.231],[18.1,0.225],[18.12,0.22],[18.14,0.209],[18.15,0.163],[18.16,0.209],[18.18,0.255],[18.19,0.243],[18.2,0.22],[18.21,0.231],[18.23,0.243],[18.25,0.22],[18.27,0.199],[18.28,0.163],[18.29,0.147],[18.3,0.171],[18.31,0.155],[18.32,0.189],[18.33,0.22],[18.34,0.231],[18.35,0.255],[18.36,0.22],[18.37,0.231],[18.38,0.268],[18.39,0.362],[18.4,0.443],[18.41,0.328],[18.42,0.22],[18.43,0.133],[18.44,0.0599],[18.45,0.0542],[18.46,0.133],[18.47,0.328],[18.48,0.401],[18.49,0.362],[18.5,0.328],[18.51,0.362],[18.52,0.328],[18.53,0.268],[18.54,0.362],[18.55,0.401],[18.56,0.328],[18.57,0.268],[18.58,0.22],[18.6,0.189],[18.62,0.199],[18.64,0.22],[18.66,0.231],[18.68,0.225],[18.7,0.231],[18.72,0.22],[18.74,0.243],[18.76,0.255],[18.78,0.262],[18.8,0.268],[18.82,0.282],[18.84,0.289],[18.86,0.268],[18.88,0.255],[18.9,0.268],[18.92,0.262],[18.94,0.268],[18.96,0.282],[18.98,0.289],[19,0.293],[19.02,0.268],[19.04,0.255],[19.06,0.275],[19.08,0.268],[19.1,0.282],[19.12,0.275],[19.14,0.289],[19.16,0.297],[19.18,0.282],[19.2,0.268],[19.22,0.255],[19.24,0.243],[19.26,0.231],[19.28,0.225],[19.3,0.237],[19.32,0.243],[19.34,0.268],[19.36,0.362],[19.38,0.401],[19.4,0.328],[19.42,0.282],[19.44,0.268],[19.46,0.255],[19.48,0.243],[19.5,0.255],[19.52,0.231],[19.54,0.209],[19.56,0.199],[19.58,0.194],[19.6,0.199],[19.62,0.209],[19.64,0.22],[19.66,0.209],[19.68,0.231],[19.7,0.22],[19.72,0.214],[19.74,0.22],[19.76,0.231],[19.78,0.22],[19.8,0.209],[19.82,0.231],[19.84,0.22],[19.86,0.231],[19.88,0.225],[19.9,0.243],[19.92,0.231],[19.94,0.243],[19.95,0.255],[19.96,0.18],[19.97,0.171],[19.98,0.22],[20,0.243],[20.02,0.255],[20.04,0.268],[20.06,0.282],[20.08,0.28],[20.1,0.255],[20.11,0.189],[20.12,0.18],[20.13,0.199],[20.14,0.22],[20.16,0.22],[20.18,0.209],[20.2,0.22],[20.22,0.225],[20.24,0.22],[20.26,0.199],[20.28,0.189],[20.3,0.199],[20.32,0.22],[20.34,0.231],[20.36,0.22],[20.38,0.214],[20.4,0.22],[20.42,0.225],[20.44,0.22],[20.46,0.22],[20.48,0.243],[20.5,0.255],[20.52,0.268],[20.54,0.22],[20.56,0.214],[20.58,0.22],[20.6,0.209],[20.62,0.199],[20.64,0.189],[20.66,0.199],[20.68,0.18],[20.7,0.209],[20.72,0.199],[20.73,0.231],[20.74,0.22],[20.75,0.189],[20.76,0.362],[20.77,0.541],[20.78,0.401],[20.79,0.268],[20.8,0.18],[20.81,0.147],[20.82,0.199],[20.83,0.243],[20.84,0.22],[20.85,0.199],[20.86,0.243],[20.87,0.22],[20.88,0.268],[20.89,0.243],[20.9,0.297],[20.91,0.328],[20.92,0.362],[20.93,0.401],[20.94,0.328],[20.95,0.297],[20.96,0.362],[20.97,0.381],[20.98,0.362]
];

var seriesNames = ['VO-Upstream', 'VO-Downstream'];
var seriesColors = ['#000080', '#ff0000'];
var xTicks = [0, 2, 4, 6, 8, 10, 12, 14, 16, 18, 20];
var yTicks = [0.01, 0.1, 1, 10];
var yTickLabels = ['0.01', '0.1', '1', '10'];
var gridYValues = [0.1, 1];
var gridXValues = [2, 4, 6, 8, 10, 12, 14, 16, 18, 20];

var svg = d3.select('#chart');
var font = "'Liberation Sans', Arial, sans-serif";

// plot area box
var plot = {l: 179.5, r: 1581, t: 52.3, b: 512.7};

var xScale = d3.scaleLinear().domain([0, 21]).range([plot.l, plot.r]);
var yScale = d3.scaleLog().domain([0.01, 10]).range([plot.b, plot.t]);

// outer frame
svg.append('rect')
    .attr('x', 7).attr('y', 6)
    .attr('width', 1760).attr('height', 620)
    .attr('fill', 'none').attr('stroke', '#000').attr('stroke-width', 2);

// gridlines
svg.append('g').selectAll('line')
    .data(gridYValues)
    .enter().append('line')
    .attr('x1', plot.l).attr('x2', plot.r)
    .attr('y1', function(d) { return yScale(d); })
    .attr('y2', function(d) { return yScale(d); })
    .attr('stroke', '#555').attr('stroke-width', 1.3)
    .attr('stroke-dasharray', '10,5');

svg.append('g').selectAll('line')
    .data(gridXValues)
    .enter().append('line')
    .attr('x1', function(d) { return xScale(d); })
    .attr('x2', function(d) { return xScale(d); })
    .attr('y1', plot.t).attr('y2', plot.b)
    .attr('stroke', '#555').attr('stroke-width', 1.3)
    .attr('stroke-dasharray', '11,5');

// top and right border of plot area (grey)
svg.append('line')
    .attr('x1', 168).attr('x2', plot.r)
    .attr('y1', plot.t).attr('y2', plot.t)
    .attr('stroke', '#808080').attr('stroke-width', 1.5);
svg.append('line')
    .attr('x1', plot.r).attr('x2', plot.r)
    .attr('y1', plot.t).attr('y2', plot.b)
    .attr('stroke', '#808080').attr('stroke-width', 1.5);

// series
var line = d3.line()
    .x(function(d) { return xScale(d[0]); })
    .y(function(d) { return yScale(d[1]); });

[upstream, downstream].forEach(function(data, i) {
    svg.append('path')
        .datum(data)
        .attr('fill', 'none')
        .attr('stroke', seriesColors[i])
        .attr('stroke-width', 1.6)
        .attr('stroke-linejoin', 'round')
        .attr('d', line);
});

// axes
var xAxisG = svg.append('g')
    .attr('transform', 'translate(0,' + plot.b + ')')
    .call(d3.axisBottom(xScale)
        .tickValues(xTicks)
        .tickSize(11)
        .tickSizeOuter(0)
        .tickPadding(27)
        .tickFormat(d3.format('d')));
xAxisG.select('.domain').attr('stroke', '#000').attr('stroke-width', 1.6);
xAxisG.selectAll('.tick line').attr('stroke', '#000').attr('stroke-width', 1.3);
xAxisG.selectAll('.tick text').style('font-size', '35px');

var yAxisG = svg.append('g')
    .attr('transform', 'translate(' + plot.l + ',0)')
    .call(d3.axisLeft(yScale)
        .tickValues(yTicks)
        .tickSize(11)
        .tickSizeOuter(0)
        .tickPadding(22)
        .tickFormat(function(d, i) { return yTickLabels[i]; }));
yAxisG.select('.domain').attr('stroke', '#000').attr('stroke-width', 1.6);
yAxisG.selectAll('.tick line').attr('stroke', '#000').attr('stroke-width', 1.3);
yAxisG.selectAll('.tick text').style('font-size', '32px').attr('dy', '0.36em');

// axis titles
svg.append('text')
    .attr('transform', 'translate(47,283) rotate(-90)')
    .attr('text-anchor', 'middle')
    .attr('textLength', 335)
    .attr('lengthAdjust', 'spacingAndGlyphs')
    .style('font-family', font).style('font-weight', 'bold').style('font-size', '30px')
    .text('PM emissions [mg/s]');

svg.append('text')
    .attr('x', 1765).attr('y', 576)
    .attr('text-anchor', 'end')
    .style('font-family', font).style('font-weight', 'bold').style('font-size', '35px')
    .text('elapsed km');

// title, on a white box that hides the frame behind it
svg.append('rect')
    .attr('x', 557).attr('y', 9)
    .attr('width', 801).attr('height', 66)
    .attr('fill', '#fff');
svg.append('text')
    .attr('x', 956).attr('y', 60)
    .attr('text-anchor', 'middle')
    .attr('textLength', 667)
    .attr('lengthAdjust', 'spacingAndGlyphs')
    .style('font-family', "Lato, 'Open Sans', sans-serif").style('font-weight', 'bold').style('font-size', '43px')
    .text('Sampling on two separate runs');

// legend
var legend = svg.append('g');
legend.append('rect')
    .attr('x', 1479).attr('y', 19)
    .attr('width', 278).attr('height', 76)
    .attr('fill', '#fff').attr('stroke', '#555').attr('stroke-width', 1.4);

var legendRowY = [40.3, 77.7];
seriesNames.forEach(function(name, i) {
    legend.append('line')
        .attr('x1', 1489).attr('x2', 1537)
        .attr('y1', legendRowY[i]).attr('y2', legendRowY[i])
        .attr('stroke', seriesColors[i]).attr('stroke-width', 1.8);
    legend.append('text')
        .attr('x', 1543).attr('y', legendRowY[i] + 10)
        .style('font-family', font).style('font-weight', 'bold').style('font-size', '26px')
        .text(name);
});
</script>
</body>
</html>
